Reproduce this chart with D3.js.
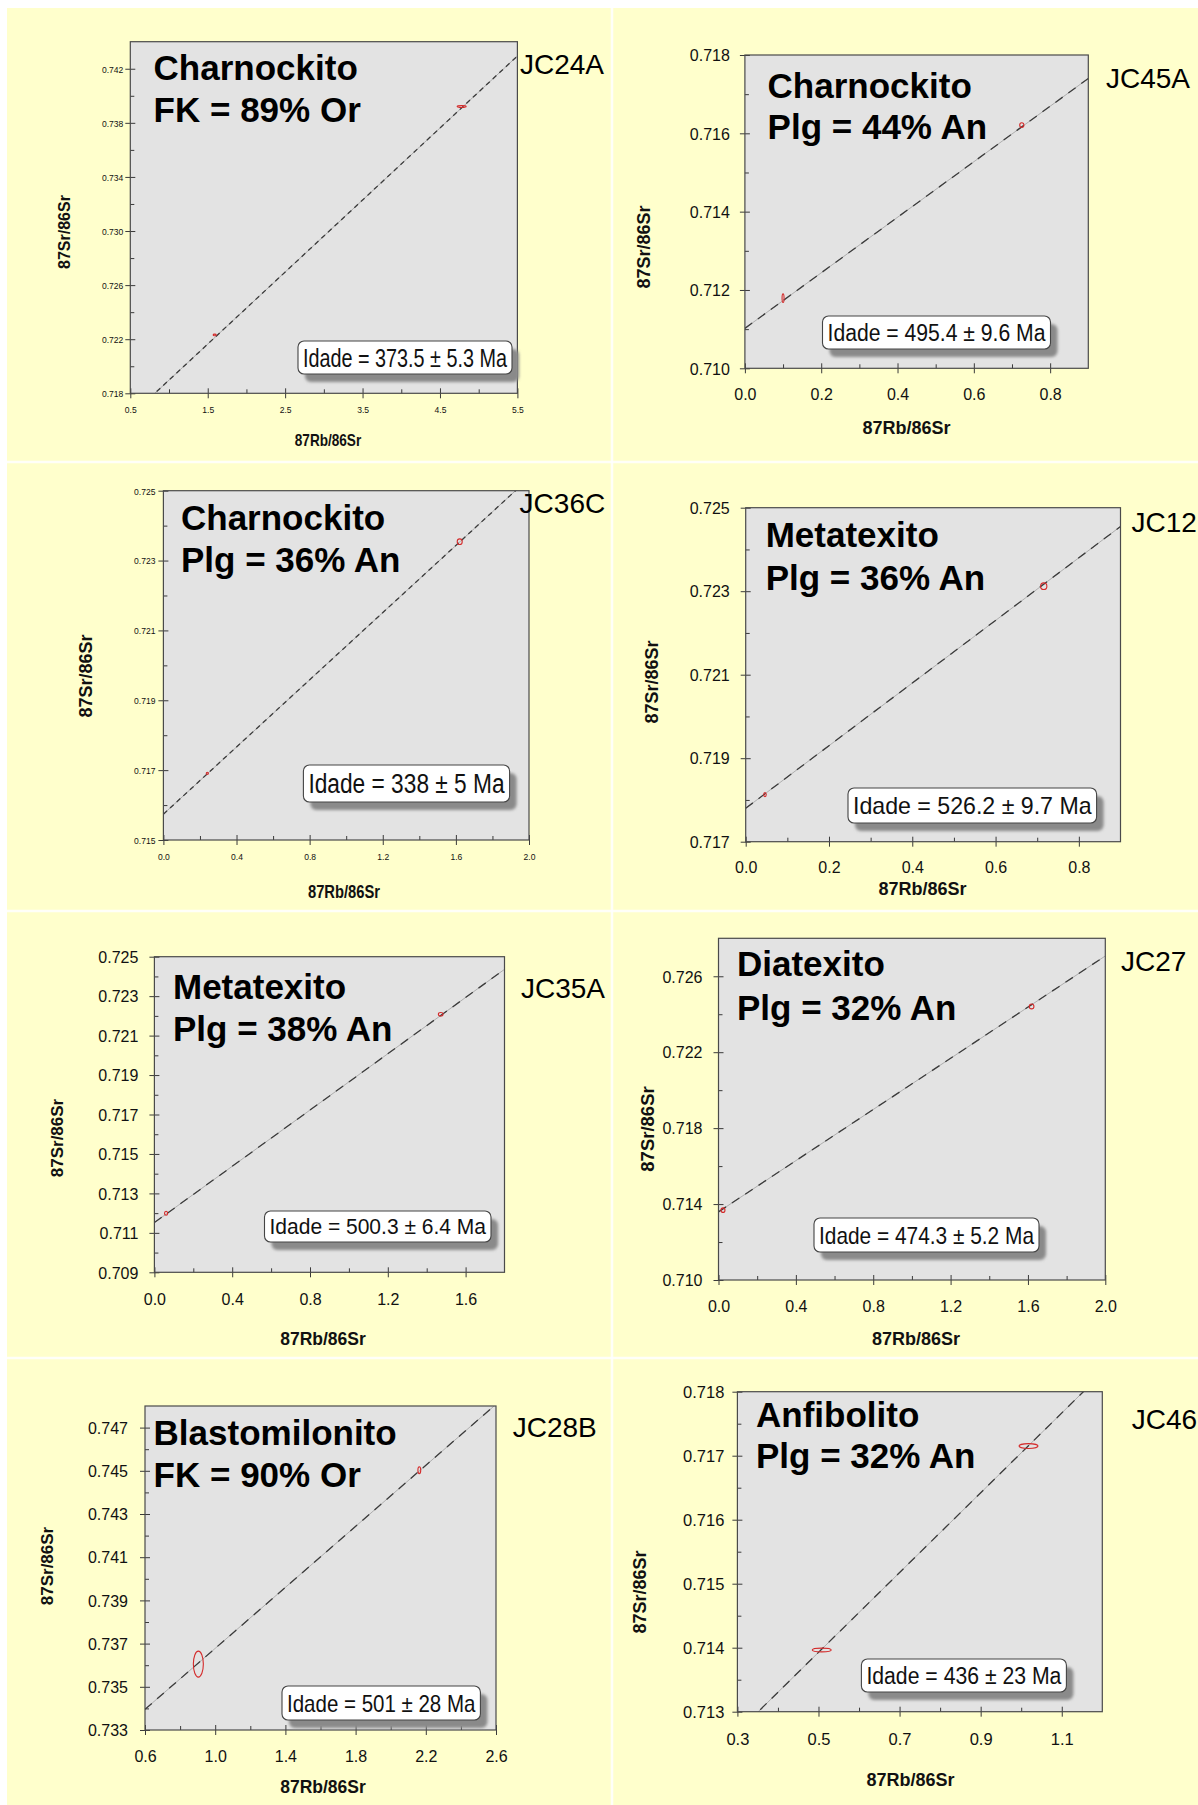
<!DOCTYPE html>
<html><head><meta charset="utf-8">
<script src="https://cdn.jsdelivr.net/npm/d3@7"></script>
<style>body{margin:0;background:#fff}svg{display:block}</style>
</head><body><svg id="c" width="1198" height="1805"></svg>
<script>
// ---------------- DATA ----------------
const sampleIds = ["JC24A","JC45A","JC36C","JC12","JC35A","JC27","JC28B","JC46"];
const rockNames = ["Charnockito","Charnockito","Charnockito","Metatexito","Metatexito","Diatexito","Blastomilonito","Anfibolito"];
const mineralTexts = ["FK = 89% Or","Plg = 44% An","Plg = 36% An","Plg = 36% An","Plg = 38% An","Plg = 32% An","FK = 90% Or","Plg = 32% An"];
const ageLabels = ["Idade = 373.5 \u00b1 5.3 Ma","Idade = 495.4 \u00b1 9.6 Ma","Idade = 338 \u00b1 5 Ma","Idade = 526.2 \u00b1 9.7 Ma",
                   "Idade = 500.3 \u00b1 6.4 Ma","Idade = 474.3 \u00b1 5.2 Ma","Idade = 501 \u00b1 28 Ma","Idade = 436 \u00b1 23 Ma"];
const xTitle = "87Rb/86Sr";
const yTitle = "87Sr/86Sr";
const xDomains = [[0.5,5.5],[0,0.9],[0,2],[0,0.9],[0,1.8],[0,2],[0.6,2.6],[0.3,1.2]];
const yDomains = [[0.718,0.744],[0.710,0.718],[0.715,0.725],[0.717,0.725],[0.709,0.725],[0.710,0.728],[0.733,0.748],[0.713,0.718]];
const xMajorTicks = [[0.5,1.5,2.5,3.5,4.5,5.5],[0,0.2,0.4,0.6,0.8],[0,0.4,0.8,1.2,1.6,2.0],[0,0.2,0.4,0.6,0.8],
                     [0,0.4,0.8,1.2,1.6],[0,0.4,0.8,1.2,1.6,2.0],[0.6,1.0,1.4,1.8,2.2,2.6],[0.3,0.5,0.7,0.9,1.1]];
const xMinorTicks = [[1,2,3,4,5],[0.1,0.3,0.5,0.7],[0.2,0.6,1.0,1.4,1.8],[0.1,0.3,0.5,0.7],
                     [0.2,0.6,1.0,1.4],[0.2,0.6,1.0,1.4,1.8],[0.8,1.2,1.6,2.0,2.4],[0.4,0.6,0.8,1.0]];
const yMajorTicks = [[0.718,0.722,0.726,0.730,0.734,0.738,0.742],[0.710,0.712,0.714,0.716,0.718],
                     [0.715,0.717,0.719,0.721,0.723,0.725],[0.717,0.719,0.721,0.723,0.725],
                     [0.709,0.711,0.713,0.715,0.717,0.719,0.721,0.723,0.725],[0.710,0.714,0.718,0.722,0.726],
                     [0.733,0.735,0.737,0.739,0.741,0.743,0.745,0.747],[0.713,0.714,0.715,0.716,0.717,0.718]];
const yMinorTicks = [[0.720,0.724,0.728,0.732,0.736,0.740],[0.711,0.713,0.715,0.717],
                     [0.716,0.718,0.720,0.722,0.724],[0.718,0.720,0.722,0.724],
                     [0.710,0.712,0.714,0.716,0.718,0.720,0.722,0.724],[0.712,0.716,0.720,0.724],
                     [0.734,0.736,0.738,0.740,0.742,0.744,0.746],[0.7135,0.7145,0.7155,0.7165,0.7175]];
const xTickDecimals = [1,1,1,1,1,1,1,1];
const yTickDecimals = [3,3,3,3,3,3,3,3];
// isochron: 87Sr/86Sr = intercept + slope * 87Rb/86Sr
const isoIntercepts = [0.71365,0.71102,0.71574,0.7178,0.71152,0.71359,0.72972,0.71081];
const isoSlopes     = [0.005326,0.00709,0.004808,0.0075,0.007133,0.00674,0.00706,0.006234];
// analysed fractions: [x, y, error x, error y]
const points = [
  [[1.59,0.72232,0.02,0.00005],[4.78,0.73920,0.058,0.00007]],
  [[0.10,0.71179,0.0026,0.00011],[0.7257,0.71621,0.0055,0.00006]],
  [[0.2404,0.71691,0.006,0.00003],[1.621,0.72354,0.0137,0.00008]],
  [[0.0463,0.71813,0.003,0.00005],[0.7157,0.72312,0.0075,0.00008]],
  [[0.06,0.71199,0.008,0.0001],[1.472,0.72208,0.012,0.00009]],
  [[0.0234,0.71368,0.01,0.00012],[1.619,0.72441,0.012,0.00013]],
  [[0.904,0.73605,0.0285,0.0006],[2.163,0.74503,0.008,0.00016]],
  [[0.508,0.713964,0.0234,0.00003],[1.018,0.71715,0.0234,0.000038]]
];

// ---------------- LAYOUT ----------------
const plotRects = [[130.3,41.7,517.4,393.3],[744.9,55,1088.3,368.3],[163.4,490.7,529,840],[745.7,507.7,1120.5,841.7],
                   [154.4,956.7,504.5,1272.3],[718.5,938.3,1105.3,1280],[145,1406,496,1730],[737.4,1391.7,1102.3,1711.7]];
const tickFont   = [9.5,16,9.5,16,16,16,16,16.5];
const tickSx     = [0.9,1,0.9,1,1,1,1,1];
const yLabelGap  = [7,15,8,16,16,16,17,13];
const xLabelBase = [20,32,20,31,33,32,32,33];
const yTitlePos  = [[64,232,16],[643.5,247,18],[86,676,18],[652,682,18],[57,1138,17],[647.5,1129,18.5],[47,1566,17],[640,1592,18]];
const xTitlePos  = [[328,446,16,0.85],[906.5,434,18,1],[344,898,18,0.82],[922.5,895,18,1],[323,1345,17.5,1],[916,1345,18,1],[323,1793,17.5,1],[910.5,1786,18,1]];
const idadeBoxes = [[298,341,512,374],[822.5,316,1050.5,349],[303.4,765,509.6,802],[848,788,1096.6,823],
                    [264.5,1211,491,1242],[814,1218,1039,1252],[282,1686,480.4,1720],[861.4,1659,1066.4,1692]];
const idadeFont  = [25,23,27,24,22,24,24,23];
const titlePos   = [[153.6,80,122],[767.6,98,139],[181,530,572],[765.7,547,590],[173,999,1041],[737,976,1020],[153.6,1445,1487],[756,1427,1468]];
const labelPos   = [[520,74],[1106,88],[519.6,513],[1131.5,532],[521,998],[1121,971],[512.7,1437],[1131.8,1429]];
const dashPatterns = ["5,4","9,7","5,4","9,7","9,7","9,7","9,7","9,7"];

const FONT = "'Liberation Sans', Arial, Helvetica, sans-serif";
const svg = d3.select("#c");
const W = 1198, H = 1805;

// background
svg.append("rect").attr("width",W).attr("height",H).attr("fill","#ffffff");
svg.append("rect").attr("x",7).attr("y",8).attr("width",W-7).attr("height",H-8).attr("fill","#FFFFCC");
// faint separators
const sep = svg.append("g").attr("stroke","#ffffff").attr("stroke-opacity",0.85).attr("stroke-width",2.5);
[462,911,1358].forEach(yy => sep.append("line").attr("x1",7).attr("x2",W).attr("y1",yy).attr("y2",yy));
sep.append("line").attr("x1",612).attr("x2",612).attr("y1",8).attr("y2",H);

const defs = svg.append("defs");
const blur = defs.append("filter").attr("id","shadowBlur").attr("x","-10%").attr("y","-30%").attr("width","120%").attr("height","160%");
blur.append("feGaussianBlur").attr("stdDeviation",1.6);

sampleIds.forEach((id, i) => {
  const [L,T,R,B] = plotRects[i];
  const x = d3.scaleLinear().domain(xDomains[i]).range([L,R]);
  const y = d3.scaleLinear().domain(yDomains[i]).range([B,T]);
  const g = svg.append("g").attr("class","panel");

  defs.append("clipPath").attr("id","clip"+i).append("rect")
      .attr("x",L).attr("y",T).attr("width",R-L).attr("height",B-T);

  g.append("rect").attr("x",L).attr("y",T).attr("width",R-L).attr("height",B-T).attr("fill","#E3E3E3");

  // isochron
  const a = isoIntercepts[i], b = isoSlopes[i];
  const [x0,x1] = xDomains[i];
  const lineData = [[x0, a + b*x0],[x1, a + b*x1]];
  const lineGen = d3.line().x(d => x(d[0])).y(d => y(d[1]));
  const cg = g.append("g").attr("clip-path","url(#clip"+i+")");
  cg.append("path").attr("d",lineGen(lineData)).attr("stroke","#a0a0a0").attr("stroke-width",0.8).attr("fill","none");
  cg.append("path").attr("d",lineGen(lineData)).attr("stroke","#3c3c3c").attr("stroke-width",1.3)
    .attr("stroke-dasharray",dashPatterns[i]).attr("fill","none");

  // error ellipses
  cg.selectAll("ellipse.pt").data(points[i]).join("ellipse").attr("class","pt")
    .attr("cx",d => x(d[0])).attr("cy",d => y(d[1]))
    .attr("rx",d => Math.max(0.8, Math.abs(x(d[0]+d[2]) - x(d[0]))))
    .attr("ry",d => Math.max(0.8, Math.abs(y(d[1]+d[3]) - y(d[1]))))
    .attr("fill","none").attr("stroke","#D42B2B").attr("stroke-width",1.1);

  // axes
  const fx = d3.format("."+xTickDecimals[i]+"f"), fy = d3.format("."+yTickDecimals[i]+"f");
  const sx = tickSx[i];
  const xa = g.append("g").attr("transform",`translate(0,${B})`)
    .call(d3.axisBottom(x).tickValues(xMajorTicks[i]).tickFormat(fx).tickSize(5).tickSizeOuter(0));
  xa.select(".domain").remove();
  xa.selectAll("line").attr("y1",-5).attr("stroke","#3a3a3a");
  xa.selectAll("text").attr("y",xLabelBase[i]).attr("dy",null)
    .attr("transform",`scale(${sx},1)`)
    .attr("font-family",FONT).attr("font-size",tickFont[i]).attr("fill","#111");
  const xm = g.append("g").attr("transform",`translate(0,${B})`)
    .call(d3.axisBottom(x).tickValues(xMinorTicks[i]).tickFormat("").tickSize(-4).tickSizeOuter(0));
  xm.select(".domain").remove();
  xm.selectAll("line").attr("stroke","#3a3a3a");

  const ya = g.append("g").attr("transform",`translate(${L},0)`)
    .call(d3.axisLeft(y).tickValues(yMajorTicks[i]).tickFormat(fy).tickSize(5).tickSizeOuter(0));
  ya.select(".domain").remove();
  ya.selectAll("line").attr("x1",5).attr("stroke","#3a3a3a");
  ya.selectAll("text").attr("x",-yLabelGap[i]/sx).attr("dy","0.36em")
    .attr("transform",`scale(${sx},1)`)
    .attr("font-family",FONT).attr("font-size",tickFont[i]).attr("fill","#111");
  const ym = g.append("g").attr("transform",`translate(${L},0)`)
    .call(d3.axisLeft(y).tickValues(yMinorTicks[i]).tickFormat("").tickSize(-4).tickSizeOuter(0));
  ym.select(".domain").remove();
  ym.selectAll("line").attr("stroke","#3a3a3a");

  // frame
  g.append("rect").attr("x",L).attr("y",T).attr("width",R-L).attr("height",B-T)
    .attr("fill","none").attr("stroke","#4a4a4a").attr("stroke-width",1.2);

  // axis titles
  const [ytx,yty,yts] = yTitlePos[i];
  g.append("text").attr("transform",`translate(${ytx},${yty}) rotate(-90)`)
    .attr("text-anchor","middle").attr("dominant-baseline","central")
    .attr("font-family",FONT).attr("font-weight","bold").attr("font-size",yts).attr("fill","#111").text(yTitle);
  const [xtx,xty,xts,xtsx] = xTitlePos[i];
  g.append("text").attr("transform",`translate(${xtx},${xty}) scale(${xtsx},1)`)
    .attr("text-anchor","middle")
    .attr("font-family",FONT).attr("font-weight","bold").attr("font-size",xts).attr("fill","#111").text(xTitle);

  // age box
  const [bl,bt,br,bb] = idadeBoxes[i];
  g.append("rect").attr("x",bl+7).attr("y",bt+8).attr("width",br-bl).attr("height",bb-bt).attr("rx",6)
    .attr("fill","#8a8a8a").attr("filter","url(#shadowBlur)");
  g.append("rect").attr("x",bl).attr("y",bt).attr("width",br-bl).attr("height",bb-bt).attr("rx",6)
    .attr("fill","#ffffff").attr("stroke","#444").attr("stroke-width",1.1);
  g.append("text").attr("x",(bl+br)/2).attr("y",(bt+bb)/2).attr("dy","0.36em")
    .attr("text-anchor","middle").attr("textLength",br-bl-10).attr("lengthAdjust","spacingAndGlyphs")
    .attr("font-family",FONT).attr("font-size",idadeFont[i]).attr("fill","#111").text(ageLabels[i]);

  // big title
  const [tx,tb1,tb2] = titlePos[i];
  g.append("text").attr("x",tx).attr("y",tb1).attr("font-family",FONT).attr("font-weight","bold")
    .attr("font-size",35).attr("fill","#000").text(rockNames[i]);
  g.append("text").attr("x",tx).attr("y",tb2).attr("font-family",FONT).attr("font-weight","bold")
    .attr("font-size",35).attr("fill","#000").text(mineralTexts[i]);

  // sample id
  const [lx,ly] = labelPos[i];
  g.append("text").attr("x",lx).attr("y",ly).attr("font-family",FONT)
    .attr("font-size",28).attr("fill","#000").text(id);
});
</script>
</body></html>
